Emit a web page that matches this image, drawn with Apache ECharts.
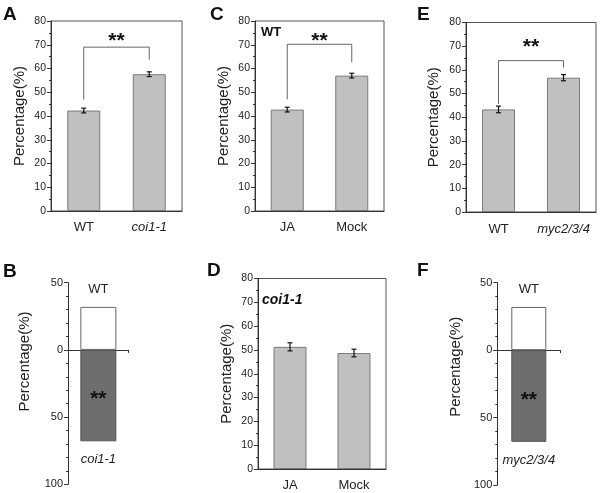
<!DOCTYPE html>
<html>
<head>
<meta charset="utf-8">
<script src="https://cdn.jsdelivr.net/npm/echarts@6/dist/echarts.min.js"></script>
<style>html,body{margin:0;padding:0;background:#fff}#c{width:600px;height:493px}</style>
</head>
<body>
<div id="c"></div>
<script>
// ---- data ----
const yTicks = [0, 10, 20, 30, 40, 50, 60, 70, 80];
const divTicks = [50, 0, 50, 100];

const catsA = ['WT', 'coi1-1'];
const valsA = [42.3, 57.6];
const errA = [1.0, 1.0];
const bracketA = [46.9, 69.0, 63.7, 73.6]; // left start, top, right end, star level

const catsC = ['JA', 'Mock'];
const valsC = [42.7, 57.0];
const errC = [1.0, 1.0];
const bracketC = [47.0, 70.2, 62.6, 73.6];

const catsE = ['WT', 'myc2/3/4'];
const valsE = [43.3, 56.7];
const errE = [1.4, 1.3];
const bracketE = [45.6, 63.9, 61.0, 71.6];

const catsD = ['JA', 'Mock'];
const valsD = [51.3, 48.7];
const errD = [1.7, 1.6];

const groupsB = ['WT', 'coi1-1'];
const sharesB = [32, 68];
const groupsF = ['WT', 'myc2/3/4'];
const sharesF = [32, 68];

// ---- helpers ----
const FONT = 'Liberation Sans, Arial, sans-serif';
const AX = '#333';

function renderErr(params, api) {
  const i = api.value(0), m = api.value(1), e = api.value(2);
  const t = api.coord([i, m + e]), b = api.coord([i, m - e]);
  const hw = 2.5, st = {stroke: '#111', lineWidth: 1.2};
  return {type: 'group', children: [
    {type: 'line', shape: {x1: t[0], y1: t[1], x2: b[0], y2: b[1]}, style: st},
    {type: 'line', shape: {x1: t[0] - hw, y1: t[1], x2: t[0] + hw, y2: t[1]}, style: st},
    {type: 'line', shape: {x1: b[0] - hw, y1: b[1], x2: b[0] + hw, y2: b[1]}, style: st}
  ]};
}
function renderBracket(params, api) {
  const a = api.value(0), b = api.value(1);
  const p1 = api.coord([a, api.value(2)]), p2 = api.coord([a, api.value(3)]);
  const p3 = api.coord([b, api.value(3)]), p4 = api.coord([b, api.value(4)]);
  const ps = api.coord([a, api.value(5)]);
  const fs = 21;
  return {type: 'group', children: [
    {type: 'polyline', shape: {points: [p1, p2, p3, p4]}, style: {stroke: '#666', lineWidth: 1, fill: null}},
    {type: 'text', style: {text: '**', x: (p2[0] + p3[0]) / 2, y: ps[1] + fs * 0.22, align: 'center', verticalAlign: 'middle',
      font: 'bold ' + fs + 'px ' + FONT, fill: '#111'}}
  ]};
}
const catFmt = v => (v === 'WT' || v === 'JA' || v === 'Mock') ? v : '{i|' + v + '}';

const grids = [
  {left: 51, top: 21, width: 131, height: 190},
  {left: 255, top: 21, width: 129, height: 190},
  {left: 466, top: 22.5, width: 130, height: 189.5},
  {left: 68, top: 282.7, width: 60.7, height: 201.6},
  {left: 258, top: 278.5, width: 128, height: 190.5},
  {left: 497.3, top: 282.7, width: 63, height: 202.3}
].map((g, i) => Object.assign(g, i === 3 || i === 5 ? {} : {show: true, borderColor: '#555', borderWidth: 1}));

const xAxes = [], yAxes = [], series = [];

function barPanel(gi, cats, vals, errs, nameGap, labelMargin, bracket) {
  xAxes.push({type: 'category', gridIndex: gi, data: cats,
    axisLine: {lineStyle: {color: AX}}, axisTick: {alignWithLabel: true, length: 3, lineStyle: {color: AX}},
    axisLabel: {interval: 0, hideOverlap: false, fontSize: 13, color: '#222', margin: labelMargin, formatter: catFmt,
      rich: {i: {fontSize: 13, fontStyle: 'italic', color: '#222'}}}});
  yAxes.push({type: 'value', gridIndex: gi, min: yTicks[0], max: yTicks[yTicks.length - 1], interval: yTicks[1] - yTicks[0],
    name: 'Percentage(%)', nameLocation: 'middle', nameGap: nameGap,
    nameTextStyle: {fontSize: 15, color: '#222'},
    axisLine: {show: true, lineStyle: {color: AX}}, axisTick: {show: true, length: 4, lineStyle: {color: AX}},
    minorTick: {show: true, splitNumber: 2, length: 2, lineStyle: {color: AX}},
    splitLine: {show: false}, axisLabel: {fontSize: 10.5, color: '#222', margin: 5}});
  series.push({type: 'bar', xAxisIndex: gi, yAxisIndex: gi, data: vals, barWidth: 33,
    itemStyle: {color: '#c0c0c0', borderColor: '#7a7a7a', borderWidth: 1}, silent: true});
  series.push({type: 'custom', xAxisIndex: gi, yAxisIndex: gi, renderItem: renderErr,
    data: cats.map((c, i) => [i, vals[i], errs[i]]), z: 5});
  if (bracket) {
    series.push({type: 'custom', xAxisIndex: gi, yAxisIndex: gi, renderItem: renderBracket,
      data: [[0, 1].concat(bracket)], z: 5});
  }
}

function divPanel(gi, groups, shares, nameGap, namePad, barW) {
  xAxes.push({type: 'category', gridIndex: gi, data: [''],
    axisLine: {onZero: true, lineStyle: {color: AX, width: 1.2}},
    axisTick: {show: true, length: 3, lineStyle: {color: AX}}, axisLabel: {show: false}});
  yAxes.push({type: 'value', gridIndex: gi, min: -100, max: 50, interval: 50,
    name: 'Percentage(%)', nameLocation: 'middle', nameGap: nameGap,
    nameTextStyle: {fontSize: 15, color: '#222', padding: [0, 0, 0, namePad]},
    axisLine: {show: true, lineStyle: {color: AX}}, axisTick: {show: true, length: 4, lineStyle: {color: AX}},
    minorTick: {show: true, splitNumber: 5, length: 2, lineStyle: {color: AX}},
    splitLine: {show: false}, axisLabel: {fontSize: 11, color: '#222', margin: 5, formatter: v => String(Math.abs(v))}});
  series.push({type: 'bar', xAxisIndex: gi, yAxisIndex: gi, data: [shares[0]], barWidth: barW, barGap: '-100%',
    itemStyle: {color: '#ffffff', borderColor: '#666', borderWidth: 1}, silent: true,
    label: {show: true, position: 'top', distance: 11, formatter: groups[0], fontSize: 13, color: '#222'}});
  series.push({type: 'bar', xAxisIndex: gi, yAxisIndex: gi, data: [-shares[1]], barWidth: barW, barGap: '-100%',
    itemStyle: {color: '#6e6e6e', borderColor: '#555', borderWidth: 1}, silent: true,
    label: {show: true, position: 'inside', formatter: '**', fontSize: 21, fontWeight: 'bold', color: '#111', offset: [0, 4]}});
  series.push({type: 'bar', xAxisIndex: gi, yAxisIndex: gi, data: [-shares[1]], barWidth: barW, barGap: '-100%',
    itemStyle: {color: 'rgba(0,0,0,0)'}, silent: true, z: 3,
    label: {show: true, position: 'bottom', distance: 12, formatter: groups[1], fontSize: 13, fontStyle: 'italic', color: '#222'}});
}

barPanel(0, catsA, valsA, errA, 24, 10, bracketA);
barPanel(1, catsC, valsC, errC, 24, 10, bracketC);
barPanel(2, catsE, valsE, errE, 25, 11, bracketE);
divPanel(3, groupsB, sharesB, 36, 44, 36);
barPanel(4, catsD, valsD, errD, 23.5, 9.5, null);
divPanel(5, groupsF, sharesF, 34, 34, 35);

const letter = (t, l, tp) => ({text: t, left: l, top: tp, padding: 0,
  textStyle: {fontSize: 19, fontWeight: 'bold', color: '#111', fontFamily: FONT}});
const titles = [
  letter('A', 3, 5), letter('C', 210, 5), letter('E', 417, 5),
  letter('B', 3, 262), letter('D', 207, 261), letter('F', 417, 261),
  {text: 'WT', left: 261, top: 26, padding: 0, textStyle: {fontSize: 13, fontWeight: 'bold', color: '#111', fontFamily: FONT}},
  {text: 'coi1-1', left: 262, top: 293, padding: 0, textStyle: {fontSize: 14, fontWeight: 'bold', fontStyle: 'italic', color: '#111', fontFamily: FONT}}
];

const chart = echarts.init(document.getElementById('c'), null, {renderer: 'canvas'});
chart.setOption({
  animation: false,
  textStyle: {fontFamily: FONT},
  title: titles,
  grid: grids,
  xAxis: xAxes,
  yAxis: yAxes,
  series: series
});
</script>
</body>
</html>
